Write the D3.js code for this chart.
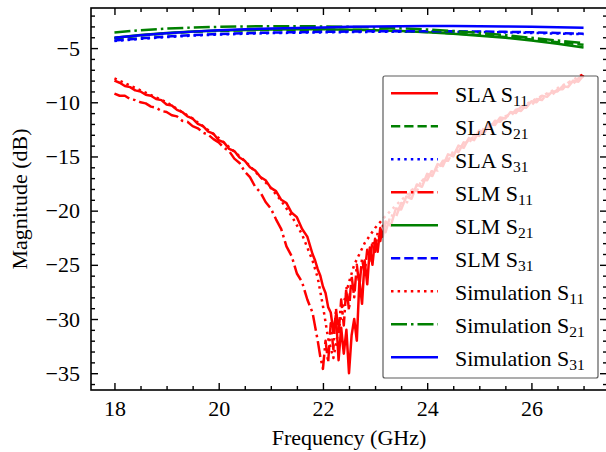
<!DOCTYPE html>
<html><head><meta charset="utf-8">
<script src="https://cdn.jsdelivr.net/npm/d3@7"></script>
<style>body{margin:0;background:#fff}svg{display:block}text{font-family:"Liberation Serif","DejaVu Serif",serif;}</style>
</head><body><svg id="c" width="606" height="452"></svg>
<script>
// ---------- DATA ----------
const freqS11 = [18.0,18.1,18.2,18.3,18.4,18.5,18.6,18.7,18.8,18.9,19.0,19.1,19.2,19.3,19.4,19.5,19.6,19.7,19.8,19.9,
20.0,20.1,20.2,20.3,20.4,20.5,20.6,20.7,20.8,20.9,21.0,21.1,21.2,21.3,21.4,21.5,21.6,21.7,
21.80,21.85,21.90,21.95,22.00,22.05,22.10,22.15,22.20,22.25,22.30,22.35,22.40,22.45,22.50,22.55,22.60,22.65,22.70,22.75,
22.80,22.85,22.90,22.95,23.00,23.05,23.10,23.15,23.20,
23.3,23.4,23.5,23.6,23.7,23.8,23.9,24.0,24.1,24.2,24.3,24.4,24.5,24.6,24.7,24.8,24.9,25.0,25.1,25.2,25.3,25.4,25.5,25.6,25.7,25.8,25.9,
26.0,26.1,26.2,26.3,26.4,26.5,26.6,26.7,26.8,26.9,27.0];

const slaS11 = [-8.0,-8.2,-8.5,-8.6,-8.9,-9.0,-9.3,-9.4,-9.7,-9.8,-10.2,-10.3,-10.7,-10.9,-11.3,-11.5,-12.0,-12.2,-12.7,-12.9,
-13.5,-13.7,-14.3,-14.5,-15.1,-15.4,-16.0,-16.3,-16.9,-17.2,-17.9,-18.2,-19.0,-19.3,-20.2,-20.6,-21.7,-22.4,
-24.0,-24.6,-25.4,-26.0,-27.0,-27.6,-28.9,-29.4,-31.2,-29.6,-33.8,-30.8,-33.2,-31.0,-35.0,-31.5,-30.0,-32.0,-26.4,-28.6,
-24.6,-26.8,-23.4,-25.0,-22.6,-23.8,-21.6,-22.4,-21.0,
-21.4,-19.8,-19.9,-18.7,-18.9,-17.6,-17.8,-16.6,-16.8,-15.7,-15.9,-14.8,-15.0,-14.0,-14.2,-13.3,-13.5,-12.6,-12.8,-12.0,-12.1,-11.4,-11.5,-10.9,-11.0,-10.4,-10.5,
-9.9,-10.0,-9.4,-9.5,-9.0,-9.0,-8.5,-8.6,-8.0,-8.1,-7.5];

const slmS11 = [-9.2,-9.4,-9.4,-9.7,-9.8,-10.0,-10.1,-10.4,-10.5,-10.8,-10.9,-11.2,-11.3,-11.7,-11.8,-12.2,-12.4,-12.8,-13.0,-13.4,
-13.7,-14.2,-14.5,-15.2,-15.6,-16.4,-16.9,-17.8,-18.3,-19.2,-19.8,-20.8,-21.7,-23.3,-24.2,-25.8,-26.6,-28.2,
-29.4,-30.7,-32.0,-33.5,-34.6,-32.0,-34.0,-30.4,-32.8,-29.0,-31.4,-28.2,-30.6,-27.0,-29.2,-26.0,-28.0,-25.0,-27.0,-24.4,
-25.8,-23.6,-24.8,-22.8,-23.8,-22.0,-22.8,-21.4,-22.0,
-20.4,-20.6,-19.3,-19.4,-18.1,-18.2,-17.1,-17.2,-16.2,-16.3,-15.4,-15.4,-14.5,-14.6,-13.7,-13.8,-13.0,-13.1,-12.3,-12.4,-11.7,-11.8,-11.2,-11.3,-10.7,-10.8,-10.2,
-10.3,-9.7,-9.8,-9.2,-9.3,-8.8,-8.8,-8.2,-8.3,-7.8,-7.6];

const freqSim11 = [18.0,18.5,19.0,19.5,20.0,20.5,21.0,21.2,21.4,21.6,21.8,21.9,22.0,22.1,22.2,22.3,22.4,22.5,22.6,22.8,
23.0,23.2,23.4,23.6,23.8,24.0,24.4,24.8,25.2,25.6,26.0,26.5,27.0];
const simS11 = [-7.8,-8.9,-10.0,-11.5,-13.3,-15.4,-17.9,-19.1,-20.5,-22.2,-24.6,-26.2,-28.8,-31.8,-33.6,-31.0,-28.5,-26.6,-25.0,-23.0,
-21.6,-20.5,-19.5,-18.6,-17.7,-16.8,-15.1,-13.5,-12.2,-11.0,-9.9,-8.7,-7.4];

const freqS21 = [18.0,18.5,19.0,19.5,20.0,20.5,21.0,21.5,22.0,22.5,23.0,23.5,24.0,24.5,25.0,25.5,26.0,26.5,27.0];
const slaS21 = [-4.1,-3.85,-3.65,-3.5,-3.42,-3.36,-3.32,-3.3,-3.3,-3.32,-3.36,-3.43,-3.52,-3.65,-3.8,-3.98,-4.2,-4.45,-4.7];
const slaS31 = [-4.35,-4.15,-3.98,-3.85,-3.75,-3.68,-3.62,-3.58,-3.55,-3.52,-3.5,-3.49,-3.49,-3.5,-3.52,-3.55,-3.6,-3.66,-3.72];
const slmS21 = [-4.05,-3.8,-3.6,-3.46,-3.38,-3.32,-3.28,-3.26,-3.27,-3.3,-3.35,-3.43,-3.54,-3.68,-3.85,-4.05,-4.3,-4.6,-4.95];
const slmS31 = [-4.3,-4.1,-3.93,-3.8,-3.7,-3.63,-3.57,-3.53,-3.5,-3.47,-3.45,-3.44,-3.44,-3.45,-3.47,-3.5,-3.54,-3.6,-3.67];
const simS21 = [-3.55,-3.35,-3.2,-3.1,-3.04,-3.0,-2.98,-2.98,-3.0,-3.04,-3.1,-3.18,-3.28,-3.42,-3.6,-3.8,-4.05,-4.3,-4.55];
const simS31 = [-4.05,-3.82,-3.63,-3.48,-3.36,-3.27,-3.2,-3.14,-3.09,-3.04,-3.0,-2.98,-2.97,-2.97,-2.98,-3.0,-3.04,-3.08,-3.13];

const legendMain = ["SLA S","SLA S","SLA S","SLM S","SLM S","SLM S","Simulation S","Simulation S","Simulation S"];
const legendSub  = ["11","21","31","11","21","31","11","21","31"];
const xMajorTicks = [18,20,22,24,26];
const yMajorTicks = [-35,-30,-25,-20,-15,-10,-5];
const xLabel = "Frequency (GHz)";
const yLabel = "Magnitude (dB)";

// ---------- STYLE ----------
const RED="#ff0000", GREEN="#008000", BLUE="#0000ff";
const LW=2.5;
const DASH={solid:null, dashed:"9.25,4", dotted:"2.5,4.1", dashdot:"16,4,2.5,4"};
const series = [
  {x:freqS11, y:slaS11, c:RED,   d:"solid"},
  {x:freqS21, y:slaS21, c:GREEN, d:"dashed"},
  {x:freqS21, y:slaS31, c:BLUE,  d:"dotted"},
  {x:freqS11, y:slmS11, c:RED,   d:"dashdot"},
  {x:freqS21, y:slmS21, c:GREEN, d:"solid"},
  {x:freqS21, y:slmS31, c:BLUE,  d:"dashed"},
  {x:freqSim11, y:simS11, c:RED, d:"dotted"},
  {x:freqS21, y:simS21, c:GREEN, d:"dashdot"},
  {x:freqS21, y:simS31, c:BLUE,  d:"solid"}
];

const FONT = '"Liberation Serif","DejaVu Serif",serif';
const FS = 22;
const L=91, R=607, T=8, B=390;

const svg = d3.select("#c");
const x = d3.scaleLinear().domain([17.55,27.45]).range([L,R]);
const y = d3.scaleLinear().domain([-36.55,-1.3]).range([B,T]);

const xMinor = d3.range(17.5,27.51,0.5).filter(v=>v>=17.55 && v<=27.45 && !xMajorTicks.includes(v));
const yMinor = d3.range(-36,-1,1).filter(v=>!yMajorTicks.includes(v));

// lines
const line = d3.line().x(d=>x(d[0])).y(d=>y(d[1]));
const g = svg.append("g");
series.forEach(s=>{
  const pts = s.x.map((f,i)=>[f,s.y[i]]);
  g.append("path").attr("d",line(pts)).attr("fill","none")
    .attr("stroke",s.c).attr("stroke-width",LW)
    .attr("stroke-dasharray",DASH[s.d]).attr("stroke-linecap","butt").attr("stroke-linejoin","round");
});

// axes
function styleAxis(sel){
  sel.attr("font-family",null).attr("font-size",null);
  sel.select(".domain").remove();
  sel.selectAll("line").attr("stroke","#000").attr("stroke-width",1.4);
  sel.selectAll("text").style("font-family",FONT).style("font-size",FS+"px").attr("fill","#000");
}
const fmt = d3.format("d");
svg.append("g").attr("transform",`translate(0,${B})`)
  .call(d3.axisBottom(x).tickValues(xMajorTicks).tickSize(-7).tickPadding(10).tickFormat(fmt)).call(styleAxis);
svg.append("g").attr("transform",`translate(0,${B})`)
  .call(d3.axisBottom(x).tickValues(xMinor).tickSize(-4).tickFormat("")).call(styleAxis);
svg.append("g").attr("transform",`translate(0,${T})`)
  .call(d3.axisTop(x).tickValues(xMajorTicks).tickSize(-7).tickFormat("")).call(styleAxis);
svg.append("g").attr("transform",`translate(0,${T})`)
  .call(d3.axisTop(x).tickValues(xMinor).tickSize(-4).tickFormat("")).call(styleAxis);
svg.append("g").attr("transform",`translate(${L},0)`)
  .call(d3.axisLeft(y).tickValues(yMajorTicks).tickSize(-7).tickPadding(11).tickFormat(fmt)).call(styleAxis);
svg.append("g").attr("transform",`translate(${L},0)`)
  .call(d3.axisLeft(y).tickValues(yMinor).tickSize(-4).tickFormat("")).call(styleAxis);
svg.append("g").attr("transform",`translate(${R},0)`)
  .call(d3.axisRight(y).tickValues(yMajorTicks).tickSize(-7).tickFormat("")).call(styleAxis);
svg.append("g").attr("transform",`translate(${R},0)`)
  .call(d3.axisRight(y).tickValues(yMinor).tickSize(-4).tickFormat("")).call(styleAxis);

svg.append("rect").attr("x",L).attr("y",T).attr("width",R-L).attr("height",B-T)
  .attr("fill","none").attr("stroke","#000").attr("stroke-width",1.6);

// labels
svg.append("text").attr("x",(L+R)/2).attr("y",445).attr("text-anchor","middle")
  .style("font-family",FONT).style("font-size",FS+"px").text(xLabel);
svg.append("text").attr("transform",`translate(27,${(T+B)/2}) rotate(-90)`).attr("text-anchor","middle")
  .style("font-family",FONT).style("font-size",FS+"px").text(yLabel);

// legend
const lg = svg.append("g");
lg.append("rect").attr("x",383).attr("y",76).attr("width",215).attr("height",302).attr("rx",2)
  .attr("fill","#fff").attr("fill-opacity",0.8).attr("stroke","#333").attr("stroke-opacity",0.8).attr("stroke-width",1.2);
series.forEach((s,i)=>{
  const cy = 93.3 + i*33;
  lg.append("line").attr("x1",391).attr("x2",438).attr("y1",cy).attr("y2",cy)
    .attr("stroke",s.c).attr("stroke-width",LW).attr("stroke-dasharray",DASH[s.d]);
  const t = lg.append("text").attr("x",455).attr("y",cy+9).style("font-family",FONT).style("font-size",FS+"px");
  t.append("tspan").text(legendMain[i]);
  t.append("tspan").attr("dy",3.5).style("font-size","15.5px").text(legendSub[i]);
});
</script></body></html>
